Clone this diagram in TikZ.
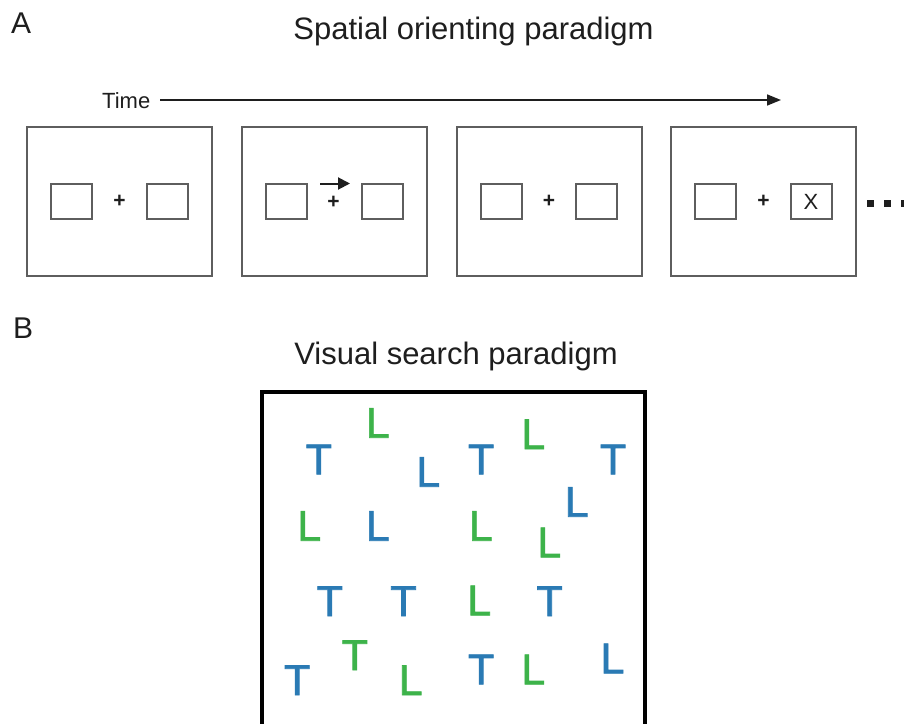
\documentclass[tikz,border=0pt]{standalone}
\usepackage{fontspec}
\setmainfont{Liberation Sans}
\newfontfamily\glyphfont[FakeBold=1.6]{Liberation Sans}
\usetikzlibrary{arrows.meta}
\definecolor{tblue}{HTML}{2A7AB4}
\definecolor{tgreen}{HTML}{3DB34A}
\definecolor{framec}{HTML}{5E5E5E}
\definecolor{ink}{HTML}{1E1E1E}
\begin{document}
\begin{tikzpicture}[x=1pt,y=-1pt,
  panel/.style={draw=framec,line width=2pt,minimum width=185pt,minimum height=149pt,inner sep=0pt},
  cuebox/.style={draw=framec,line width=2pt,minimum width=41pt,minimum height=35pt,inner sep=0pt,
     font=\fontsize{22}{22}\selectfont,text=ink},
  fixcross/.style={inner sep=0pt,text=ink,font=\fontsize{21}{21}\selectfont\bfseries},
  paneltitle/.style={inner sep=0pt,anchor=base,text=ink,font=\fontsize{31}{31}\selectfont},
  panellabel/.style={inner sep=0pt,anchor=base west,text=ink,font=\fontsize{30}{30}\selectfont},
  glyph/.style={inner sep=0pt,anchor=base,font=\glyphfont\fontsize{43}{43}\selectfont},
  bl/.style={glyph,text=tblue},
  gr/.style={glyph,text=tgreen},
  dotsq/.style={fill=ink,minimum size=7pt,inner sep=0pt}
]
\useasboundingbox (0,0) rectangle (904,723);
\clip (0,0) rectangle (904,723);
\fill[white] (0,0) rectangle (904,723);

% labels and titles
\node[panellabel] (labA) at (11,33) {A};
\node[paneltitle] (titleA) at (473.5,39) {Spatial orienting paradigm};
\node[panellabel] (labB) at (13,338) {B};
\node[paneltitle] (titleB) at (456,364) {Visual search paradigm};

% time arrow
\node[inner sep=0pt,anchor=base west,text=ink,font=\fontsize{22}{22}\selectfont] (time) at (102,108) {Time};
\coordinate (timeend) at (781,100);
\draw[ink,line width=1.6pt,-{Triangle[length=14pt,width=11pt]}] (time.east |- timeend) ++(10,0) -- (timeend);

% panels
\foreach \i/\cx in {1/119.5,2/334.5,3/549,4/763.5}{
  \node[panel] (p\i) at (\cx,201.5) {};
  \node[cuebox] (l\i) at (\cx-48,201.5) {};
}
\node[fixcross] (f1) at (119.5,201.5) {+};
\node[fixcross] (f2) at (333.5,202.5) {+};
\node[fixcross] (f3) at (549,201.5) {+};
\node[fixcross] (f4) at (763.5,201.5) {+};
\node[cuebox] (r1) at (167,201.5) {};
\node[cuebox] (r2) at (382,201.5) {};
\node[cuebox] (r3) at (596.5,201.5) {};
\node[cuebox] (r4) at (811,201.5) {X};

% cue arrow
\coordinate (cuea) at (320,183.5);
\coordinate (cueb) at (350,183.5);
\draw[ink,line width=2pt,-{Triangle[length=12pt,width=12pt]}] (cuea) -- (cueb);

% continuation dots
\node[dotsq] (d1) at (870,203) {};
\node[dotsq] (d2) at (887,203) {};
\node[dotsq] (d3) at (904,203) {};

% search display
\node[draw=black,line width=3.5pt,minimum width=383pt,minimum height=360pt,inner sep=0pt,anchor=north west] (disp) at (260,390) {};

\node[bl] (s1) at (318.8,474.3) {T};
\node[gr] (s2) at (377.8,437.7) {L};
\node[bl] (s3) at (428.3,486.7) {L};
\node[bl] (s4) at (481.2,474.3) {T};
\node[gr] (s5) at (533.3,449) {L};
\node[bl] (s6) at (613,474.3) {T};

\node[gr] (s7) at (309.3,540.7) {L};
\node[bl] (s8) at (377.8,540.7) {L};
\node[gr] (s9) at (480.8,540.7) {L};
\node[bl] (s10) at (576.7,516.7) {L};
\node[gr] (s11) at (549.3,557.3) {L};

\node[bl] (s12) at (329.8,616) {T};
\node[bl] (s13) at (403.5,616) {T};
\node[gr] (s14) at (479.2,615.3) {L};
\node[bl] (s15) at (549.7,616) {T};

\node[bl] (s16) at (297.2,695) {T};
\node[gr] (s17) at (354.8,670) {T};
\node[gr] (s18) at (410.7,695) {L};
\node[bl] (s19) at (481.2,684.3) {T};
\node[gr] (s20) at (533.3,684.3) {L};
\node[bl] (s21) at (612.5,673.3) {L};
\end{tikzpicture}
\end{document}
